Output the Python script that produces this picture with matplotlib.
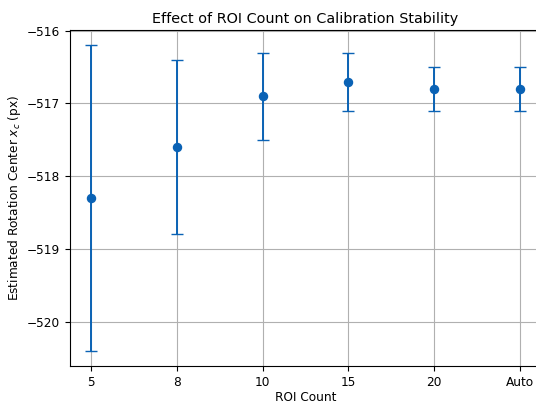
import matplotlib
matplotlib.use("Agg")
import matplotlib.pyplot as plt

roi_labels = ["5", "8", "10", "15", "20", "Auto"]
xc_mean = [-518.3, -517.6, -516.9, -516.7, -516.8, -516.8]
xc_low = [-520.4, -518.8, -517.5, -517.1, -517.1, -517.1]
xc_high = [-516.2, -516.4, -516.3, -516.3, -516.5, -516.5]

COLOR = "#0a62b5"
FS = 8.7

fig = plt.figure(figsize=(5.36, 4.03), dpi=100)
# axes runs slightly past the right edge, as in the reference crop
ax = fig.add_axes([70 / 536, 37 / 403, 471 / 536, 336 / 403])

x = list(range(len(roi_labels)))
yerr = [[m - lo for m, lo in zip(xc_mean, xc_low)],
        [hi - m for m, hi in zip(xc_mean, xc_high)]]
ax.errorbar(x, xc_mean, yerr=yerr, fmt="o", color=COLOR, ecolor=COLOR,
            capsize=4, elinewidth=1.4, capthick=1.0, markersize=5.8, zorder=3)

ax.set_xticks(x)
ax.set_xticklabels(roi_labels)
ax.set_yticks([-520, -519, -518, -517, -516])
ax.tick_params(labelsize=FS, length=3.5, width=0.8)
ax.grid(True, color="#b0b0b0", linewidth=0.8)
ax.set_axisbelow(True)

ax.set_xlabel("ROI Count", fontsize=FS, labelpad=1.5)
ax.set_ylabel("Estimated Rotation Center $x_c$ (px)", fontsize=FS, labelpad=3)
ax.set_title("Effect of ROI Count on Calibration Stability", fontsize=10.4, pad=5)

fig.savefig("out.png", dpi=100)
